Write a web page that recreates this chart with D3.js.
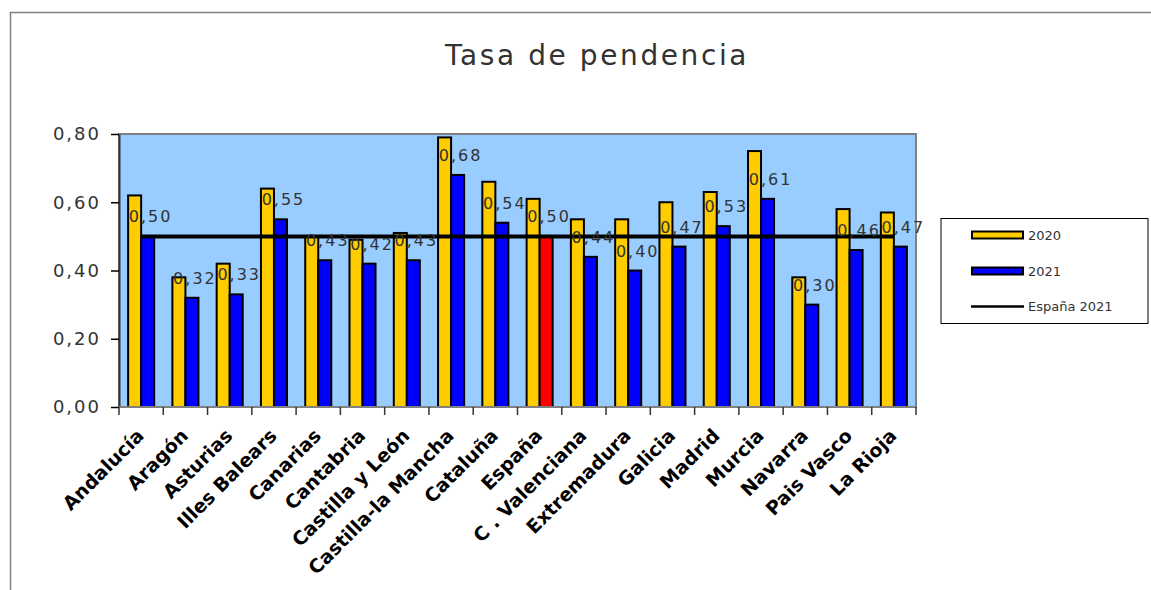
<!DOCTYPE html>
<html>
<head>
<meta charset="utf-8">
<script src="https://cdn.jsdelivr.net/npm/d3@7"></script>
<style>
  html, body { margin: 0; padding: 0; background: #fff; }
  svg { display: block; }
</style>
</head>
<body>
<svg id="chart" width="1151" height="590"></svg>
<script>
const categories = ["Andalucía","Aragón","Asturias","Illes Balears","Canarias","Cantabria","Castilla y León","Castilla-la Mancha","Cataluña","España","C . Valenciana","Extremadura","Galicia","Madrid","Murcia","Navarra","Pais Vasco","La Rioja"];
const values2020 = [0.62,0.38,0.42,0.64,0.50,0.49,0.51,0.79,0.66,0.61,0.55,0.55,0.60,0.63,0.75,0.38,0.58,0.57];
const values2021 = [0.50,0.32,0.33,0.55,0.43,0.42,0.43,0.68,0.54,0.50,0.44,0.40,0.47,0.53,0.61,0.30,0.46,0.47];
const espana2021 = [0.50,0.50,0.50,0.50,0.50,0.50,0.50,0.50,0.50,0.50,0.50,0.50,0.50,0.50,0.50,0.50,0.50,0.50];
const seriesNames = ["2020","2021"];
const legendLabels = ["2020","2021","España 2021"];
const yTicks = [0,0.2,0.4,0.6,0.8];
const title = "Tasa de pendencia";

const svg = d3.select("#chart");
const fmt = v => d3.format(".2f")(v).replace(".", ",");

// frame
svg.append("line").attr("x1",10).attr("x2",1151).attr("y1",12.5).attr("y2",12.5).attr("stroke","#808080").attr("stroke-width",1.5);
svg.append("line").attr("x1",10.5).attr("x2",10.5).attr("y1",12).attr("y2",590).attr("stroke","#808080").attr("stroke-width",1.5);

svg.append("text").attr("x",597).attr("y",65).attr("text-anchor","middle")
  .attr("font-family","DejaVu Sans").attr("font-size",28).attr("letter-spacing",2.6)
  .attr("fill","#333").text(title);

const plot = {left:119, right:916, top:134, bottom:407};
const x = d3.scaleBand().domain(categories).range([plot.left, plot.right]).paddingInner(0).paddingOuter(0);
const xs = d3.scaleBand().domain(seriesNames).range([0, x.bandwidth()]).paddingInner(0).paddingOuter(0.7);
const y = d3.scaleLinear().domain([0,0.8]).range([plot.bottom, plot.top]);

svg.append("rect").attr("x",plot.left).attr("y",plot.top).attr("width",plot.right-plot.left).attr("height",plot.bottom-plot.top)
  .attr("fill","#99CCFF").attr("stroke","#808080").attr("stroke-width",2);

// bars
const g = svg.append("g");
categories.forEach((c,i) => {
  const vals = [values2020[i], values2021[i]];
  seriesNames.forEach((s,j) => {
    let col = j === 0 ? "#FFCC00" : (c === "España" ? "#FF0000" : "#0000FF");
    g.append("rect")
      .attr("x", x(c) + xs(s))
      .attr("y", y(vals[j]))
      .attr("width", xs.bandwidth())
      .attr("height", y(0) - y(vals[j]))
      .attr("fill", col).attr("stroke","#000").attr("stroke-width",2);
  });
});

// España 2021 line
const line = d3.line().x((d,i) => x(categories[i]) + x.bandwidth()/2).y(d => y(d));
svg.append("path").datum(espana2021).attr("d", line).attr("fill","none").attr("stroke","#000").attr("stroke-width",4);

// data labels (2021)
categories.forEach((c,i) => {
  svg.append("text")
    .attr("x", x(c) + xs("2021") + xs.bandwidth()/2 + 3)
    .attr("y", y(values2021[i]) - 14)
    .attr("text-anchor","middle")
    .attr("font-family","DejaVu Sans").attr("font-size",16).attr("letter-spacing",2)
    .attr("fill","#333").text(fmt(values2021[i]));
});

// y axis
const yAxis = svg.append("g").attr("transform",`translate(${plot.left},0)`)
  .call(d3.axisLeft(y).tickValues(yTicks).tickFormat(fmt).tickSize(8).tickSizeOuter(0).tickPadding(10));
yAxis.select(".domain").attr("stroke","#333").attr("stroke-width",2);
yAxis.selectAll(".tick line").attr("stroke","#000").attr("stroke-width",1.5);
yAxis.selectAll(".tick text").attr("font-family","DejaVu Sans").attr("font-size",18).attr("letter-spacing",2).attr("fill","#333");

// x axis
const boundaries = categories.map(c => x(c)).concat([plot.right]);
svg.append("line").attr("x1",plot.left).attr("x2",plot.right).attr("y1",plot.bottom).attr("y2",plot.bottom).attr("stroke","#808080").attr("stroke-width",2);
svg.selectAll(".xtick").data(boundaries).enter().append("line")
  .attr("x1",d=>d).attr("x2",d=>d).attr("y1",plot.bottom).attr("y2",plot.bottom+8)
  .attr("stroke","#333").attr("stroke-width",1.5);
svg.selectAll(".xlab").data(categories).enter().append("text")
  .attr("transform", d => `translate(${x(d)+x.bandwidth()/2+4},${plot.bottom+30}) rotate(-45)`)
  .attr("text-anchor","end")
  .attr("font-family","DejaVu Sans").attr("font-weight","bold").attr("font-size",19)
  .attr("fill","#000").text(d=>d);

// legend
const lg = svg.append("g");
lg.append("rect").attr("x",941).attr("y",218.5).attr("width",207).attr("height",105).attr("fill","#fff").attr("stroke","#000").attr("stroke-width",1);
const ly = [235, 271, 306.5];
const lcol = ["#FFCC00","#0000FF"];
legendLabels.forEach((t,i) => {
  if (i < 2) {
    lg.append("rect").attr("x",972).attr("y",ly[i]-3.5).attr("width",51).attr("height",7)
      .attr("fill",lcol[i]).attr("stroke","#000").attr("stroke-width",2);
  } else {
    lg.append("line").attr("x1",971).attr("x2",1024).attr("y1",ly[i]).attr("y2",ly[i]).attr("stroke","#000").attr("stroke-width",2.5);
  }
  lg.append("text").attr("x",1028).attr("y",ly[i]).attr("dy","0.35em")
    .attr("font-family","DejaVu Sans").attr("font-size",13).attr("fill","#333").text(t);
});
</script>
</body>
</html>
